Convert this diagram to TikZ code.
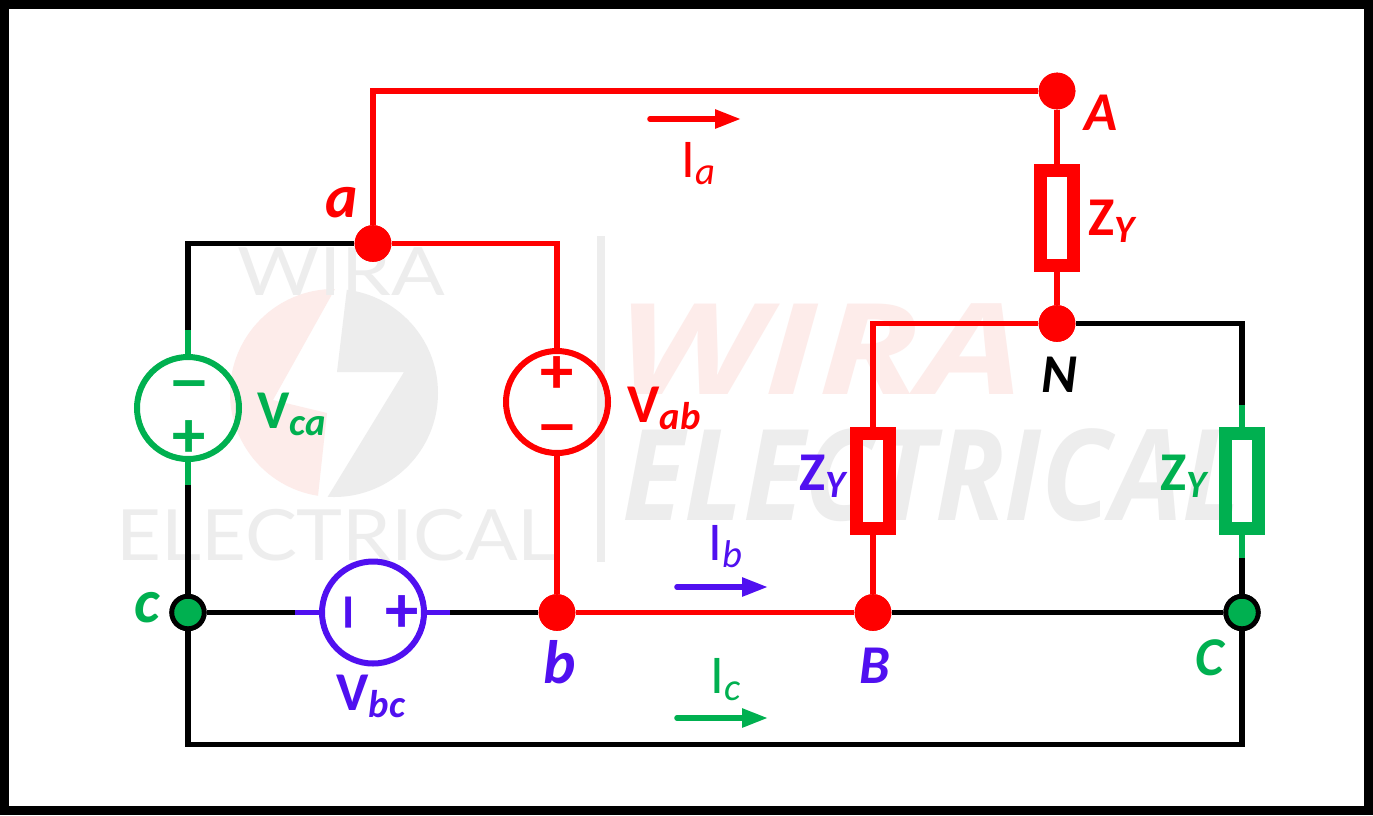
\documentclass[tikz,border=0pt]{standalone}
\usepackage{fontspec}
\usepackage{graphicx}
\usetikzlibrary{arrows.meta}
\setmainfont{Carlito}
\newfontfamily\wmthin{Lato}
\newfontfamily\wmbold{Open Sans}
\definecolor{cred}{HTML}{FF0000}
\definecolor{cgreen}{HTML}{00B050}
\definecolor{cblue}{HTML}{5010F0}
\definecolor{wgray}{HTML}{EDEDED}
\definecolor{wpink}{HTML}{FDECEA}
\newcommand\bigB{\fontsize{41}{41}\selectfont\bfseries}
\newcommand\subB[1]{\raisebox{-5.25pt}{\fontsize{29}{29}\selectfont\bfseries\itshape #1}}
\newcommand\bigR{\fontsize{41}{41}\selectfont}
\newcommand\subR[1]{\raisebox{-5.25pt}{\fontsize{29}{29}\selectfont\itshape #1}}
\newcommand\nodeL{\fontsize{41}{41}\selectfont\bfseries\itshape}
\newcommand\smallL{\fontsize{46}{46}\selectfont\bfseries\itshape}
\newcommand\sgn{\fontsize{50}{50}\selectfont\bfseries}
\newcommand\mns{\scalebox{1.32}[1]{\fontsize{50}{50}\selectfont\bfseries –}}
\tikzset{
  x=0.75pt,y=-0.75pt,
  wire/.style={line width=4pt,line join=miter},
  dot/.style={circle,inner sep=0pt,minimum size=27.5pt,fill=#1},
  gdot/.style={circle,inner sep=0pt,minimum size=24.3pt,fill=cgreen,draw=black,line width=3.6pt},
  src/.style={circle,inner sep=0pt,minimum size=76.5pt,draw=#1,line width=4.5pt},
  imp/.style={rectangle,inner sep=0pt,minimum width=24.5pt,minimum height=71.5pt,draw=#1,line width=9.5pt},
  lab/.style={anchor=base west,inner sep=0pt,text=#1},
  sign/.style={inner sep=0pt,text=#1,anchor=base},
  cur/.style={line width=4.2pt,line cap=round,-{Triangle[length=19.5pt,width=13.5pt]}},
}
\begin{document}
\begin{tikzpicture}
\useasboundingbox (0,0) rectangle (1373,815);
\fill[black] (0,0) rectangle (1373,815);
\fill[white] (9,9) rectangle (1364,806);

% watermark
\begin{scope}
  \clip (340,280) -- (273,400) -- (327,413) -- (317,505) -- (200,505) -- (200,280) -- cycle;
  \fill[wpink] (334,393) circle[radius=78pt];
\end{scope}
\begin{scope}
  \clip (348,280) -- (337,372) -- (404,372) -- (327,498) -- (327,505) -- (460,505) -- (460,280) -- cycle;
  \fill[wgray] (334,393) circle[radius=78pt];
\end{scope}
\node[inner sep=0pt,text=wgray,anchor=base] (wm1) at (341,295) {\scalebox{1.19}[1]{\wmthin\fontsize{50}{50}\selectfont WIRA}};
\node[inner sep=0pt,text=wgray,anchor=base] (wm2) at (337,560) {\scalebox{1.10}[1]{\wmthin\fontsize{53}{53}\selectfont ELECTRICAL}};
\fill[wgray] (597,236) rectangle (605,562);
\node[inner sep=0pt,text=wpink,anchor=base] (wm3) at (820,394) {\scalebox{1.31}[1]{\wmbold\bfseries\itshape\fontsize{95}{95}\selectfont WIRA}};
\node[inner sep=0pt,text=wgray,anchor=base] (wm4) at (932,520) {\scalebox{0.90}[1]{\wmbold\bfseries\itshape\fontsize{95}{95}\selectfont ELECTRICAL}};

% junctions
\node[dot=cred] (a) at (373,243.5) {};
\node[dot=cred] (A) at (1057,91) {};
\node[dot=cred] (N) at (1057,323.5) {};
\node[dot=cred] (b) at (557,612.5) {};
\node[dot=cred] (B) at (873,612.5) {};
\node[gdot] (c) at (188,612.5) {};
\node[gdot] (C) at (1242,612.5) {};

% sources and impedances
\node[src=cgreen] (vca) at (188,408) {};
\node[src=cred] (vab) at (557,402) {};
\node[src=cblue] (vbc) at (373,612.5) {};
\node[imp=cred] (za) at (1057,218) {};
\node[imp=cred] (zb) at (873,481) {};
\node[imp=cgreen] (zc) at (1242,481) {};

% stub ends
\coordinate (vcaT) at (188,330);
\coordinate (vcaB) at (188,485);
\coordinate (vbcL) at (295,612.5);
\coordinate (vbcR) at (450,612.5);
\coordinate (zcT) at (1242,405);
\coordinate (zcB) at (1242,558);
\coordinate (botL) at (188,744.5);
\coordinate (botR) at (1242,744.5);

% wires
\draw[wire,cred] (a) |- (A);
\draw[wire,cred] (a) -| (vab);
\draw[wire,black] (a) -| (vcaT);
\draw[wire,cgreen] (vcaT) -- (vca);
\draw[wire,cgreen] (vca) -- (vcaB);
\draw[wire,black] (vcaB) -- (c);
\draw[wire,cred] (vab) -- (b);
\draw[wire,black] (c) -- (vbcL);
\draw[wire,cblue] (vbcL) -- (vbc);
\draw[wire,cblue] (vbc) -- (vbcR);
\draw[wire,black] (vbcR) -- (b);
\draw[wire,cred] (b) -- (B);
\draw[wire,black] (B) -- (C);
\draw[wire,black] (c) -- (botL) -- (botR) -- (C);
\draw[wire,cred] (A) -- (za);
\draw[wire,cred] (za) -- (N);
\draw[wire,cred] (N) -| (zb);
\draw[wire,cred] (zb) -- (B);
\draw[wire,black] (N) -| (zcT);
\draw[wire,cgreen] (zcT) -- (zc);
\draw[wire,cgreen] (zc) -- (zcB);
\draw[wire,black] (zcB) -- (C);

% redraw junctions on top
\node[dot=cred] at (a) {};
\node[dot=cred] at (A) {};
\node[dot=cred] at (N) {};
\node[dot=cred] at (b) {};
\node[dot=cred] at (B) {};
\node[gdot] at (c) {};
\node[gdot] at (C) {};

% signs
\node[sign=cgreen] (vcam) at (189,402) {\mns};
\node[sign=cgreen] (vcap) at (189,457) {\sgn +};
\node[sign=cred] (vabp) at (557,393) {\sgn +};
\node[sign=cred] (vabm) at (557,446) {\mns};
\node[sign=cblue,rotate=90] (vbcm) at (367,612.5) {\mns};
\node[sign=cblue] (vbcp) at (402,632) {\sgn +};

% current arrows
\coordinate (ia1) at (650,119); \coordinate (ia2) at (741,119);
\coordinate (ib1) at (677,587); \coordinate (ib2) at (768,587);
\coordinate (ic1) at (677,718); \coordinate (ic2) at (768,718);
\draw[cur,cred] (ia1) -- (ia2);
\draw[cur,cblue] (ib1) -- (ib2);
\draw[cur,cgreen] (ic1) -- (ic2);

% labels
\node[lab=cgreen] (lvca) at (257,428) {\bigB V\subB{ca}};
\node[lab=cred] (lvab) at (627,422) {\bigB V\subB{ab}};
\node[lab=cblue] (lvbc) at (336,710) {\bigB V\subB{bc}};
\node[lab=cred] (la) at (325,217) {\smallL a};
\node[lab=cred] (lA) at (1084,130) {\nodeL A};
\node[lab=black] (lN) at (1041,392) {\nodeL N};
\node[lab=cblue] (lb) at (543,683) {\smallL b};
\node[lab=cgreen] (lc) at (134,622) {\smallL c};
\node[lab=cblue] (lB) at (859,683) {\nodeL B};
\node[lab=cgreen] (lC) at (1195,675) {\nodeL C};
\node[lab=cred] (lza) at (1088,235) {\bigB Z\subB{Y}};
\node[lab=cblue] (lzb) at (799,490) {\bigB Z\subB{Y}};
\node[lab=cgreen] (lzc) at (1160,490) {\bigB Z\subB{Y}};
\node[lab=cred] (lia) at (681,177) {\bigR I\subR{a}};
\node[lab=cblue] (lib) at (708,560) {\bigR I\subR{b}};
\node[lab=cgreen] (lic) at (710,693) {\bigR I\subR{c}};
\end{tikzpicture}
\end{document}
